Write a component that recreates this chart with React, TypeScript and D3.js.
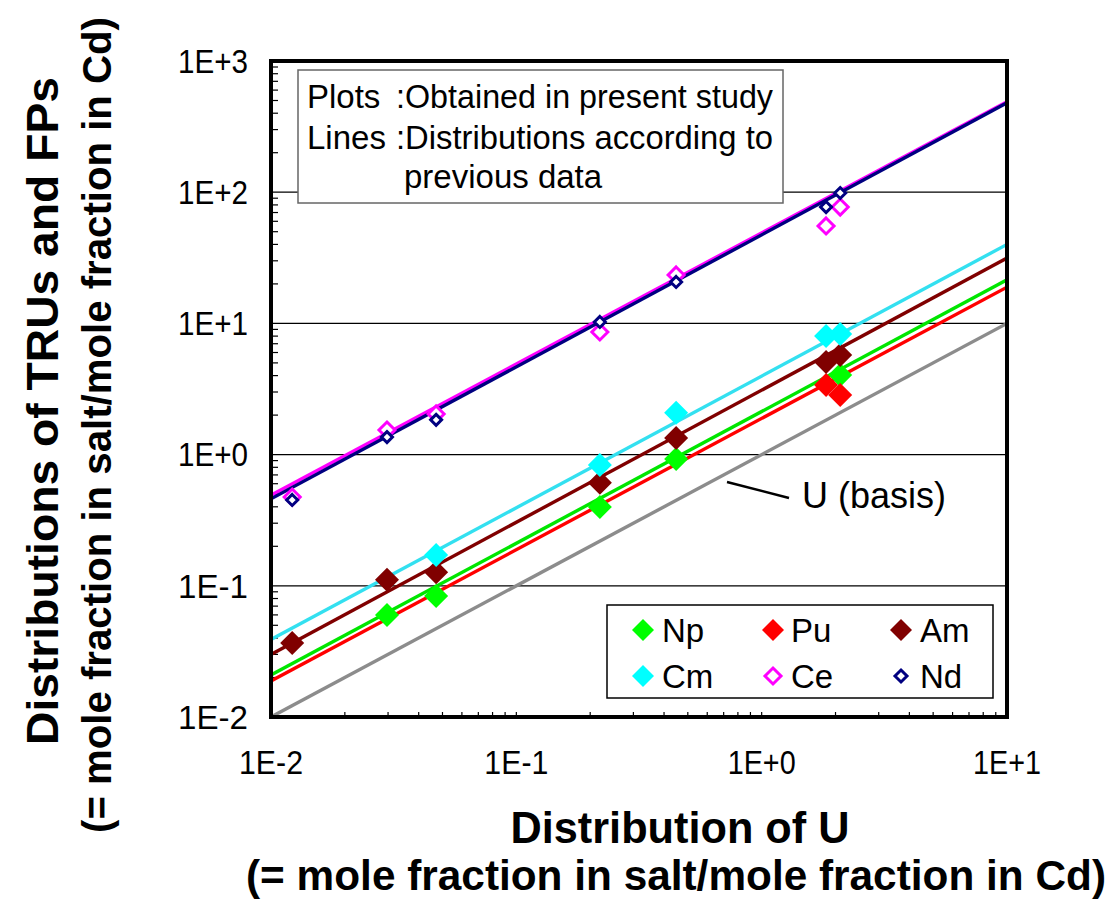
import React from "react";
import * as d3 from "d3";

// ---- Data ----
const xTicks = [0.01, 0.1, 1, 10];
const xTickLabels = ["1E-2", "1E-1", "1E+0", "1E+1"];
const yTicks = [0.01, 0.1, 1, 10, 100, 1000];
const yTickLabels = ["1E-2", "1E-1", "1E+0", "1E+1", "1E+2", "1E+3"];

const npU = [0.0297, 0.0471, 0.219, 0.448, 2.09];
const npV = [0.0598, 0.0836, 0.399, 0.925, 4.04];
const puU = [1.83, 2.09];
const puV = [3.39, 2.85];
const amU = [0.0122, 0.0297, 0.0471, 0.219, 0.448, 1.83, 2.09];
const amV = [0.0366, 0.111, 0.127, 0.609, 1.34, 5.08, 5.74];
const cmU = [0.0471, 0.219, 0.448, 1.83, 2.09];
const cmV = [0.172, 0.834, 2.08, 8.0, 8.3];
const ceU = [0.0122, 0.0297, 0.0471, 0.219, 0.448, 1.83, 2.09];
const ceV = [0.475, 1.54, 2.04, 8.6, 23.4, 55.3, 77.1];
const ndU = [0.0122, 0.0297, 0.0471, 0.219, 0.448, 1.83, 2.09];
const ndV = [0.451, 1.36, 1.84, 10.25, 20.7, 77.1, 98.6];

// previous-data distribution lines (values at x = 0.01 and x = 10)
const lineX = [0.01, 10];
const lineU = [0.01, 10];
const lineNp = [0.0209, 21.5];
const linePu = [0.0188, 18.9];
const lineAm = [0.03, 31.5];
const lineCm = [0.039, 40];
const lineCe = [0.49, 490];
const lineNd = [0.46, 480];

const FONT = "'Liberation Sans', Arial, Helvetica, sans-serif";

const W = 1113, H = 902;
const L = 271, R = 1007, T = 61, B = 717;

export default function App() {
  const x = d3.scaleLog().domain([0.01, 10]).range([L, R]);
  const y = d3.scaleLog().domain([0.01, 1000]).range([B, T]);
  const line = d3.line<[number, number]>().x((d) => x(d[0])).y((d) => y(d[1]));
  const mk = (vals: number[]) => line(lineX.map((v, i) => [v, vals[i]] as [number, number])) || "";

  const diamond = (cx: number, cy: number, r: number) =>
    `M${cx},${cy - r}L${cx + r},${cy}L${cx},${cy + r}L${cx - r},${cy}Z`;

  const minorX: number[] = [];
  for (let d = -2; d < 1; d++) for (let m = 2; m <= 10; m++) minorX.push(m * Math.pow(10, d));
  const minorY: number[] = [];
  for (let d = -2; d < 3; d++) for (let m = 2; m <= 9; m++) minorY.push(m * Math.pow(10, d));

  const lines = [
    { v: lineU, c: "#8c8c8c" },
    { v: linePu, c: "#ff0000" },
    { v: lineNp, c: "#00e600" },
    { v: lineAm, c: "#800000" },
    { v: lineCm, c: "#33e0f0" },
    { v: lineCe, c: "#ff00ff" },
    { v: lineNd, c: "#000080" },
  ];

  const filled = [
    { u: npU, v: npV, c: "#00ff00" },
    { u: puU, v: puV, c: "#ff0000" },
    { u: amU, v: amV, c: "#800000" },
    { u: cmU, v: cmV, c: "#00ffff" },
  ];

  return (
    <svg width={W} height={H} style={{ position: "absolute", left: 0, top: 0, background: "#fff" }}
      fontFamily={FONT}>
      <defs>
        <clipPath id="plot">
          <rect x={L} y={T} width={R - L} height={B - T} />
        </clipPath>
      </defs>
      <rect x={0} y={0} width={W} height={H} fill="#fff" />
      {/* gridlines */}
      {yTicks.slice(1, -1).map((t) => (
        <line key={t} x1={L} x2={R} y1={y(t)} y2={y(t)} stroke="#000" strokeWidth={1.2} />
      ))}
      {/* minor ticks */}
      {minorY.map((t) => (
        <line key={"my" + t} x1={L} x2={L + 7} y1={y(t)} y2={y(t)} stroke="#000" strokeWidth={1.2} />
      ))}
      {minorX.map((t) => (
        <line key={"mx" + t} x1={x(t)} x2={x(t)} y1={B} y2={B - 5} stroke="#000" strokeWidth={1.2} />
      ))}
      {/* lines */}
      <g clipPath="url(#plot)">
        {lines.map((l, i) => (
          <path key={i} d={mk(l.v)} stroke={l.c} strokeWidth={3.4} fill="none" />
        ))}
      </g>
      {/* text box */}
      <rect x={298} y={70} width={485} height={133} fill="#fff" stroke="#666" strokeWidth={1.5} />
      <g fontSize={33} fill="#000">
        <text x={307} y={108}>Plots</text>
        <text x={396} y={108} textLength={377} lengthAdjust="spacingAndGlyphs">:Obtained in present study</text>
        <text x={307} y={149}>Lines</text>
        <text x={396} y={149} textLength={377} lengthAdjust="spacingAndGlyphs">:Distributions according to</text>
        <text x={404} y={188}>previous data</text>
      </g>
      {/* markers */}
      {filled.map((s, si) =>
        s.u.map((u, i) => <path key={si + "-" + i} d={diamond(x(u), y(s.v[i]), 12)} fill={s.c} />)
      )}
      {ceU.map((u, i) => (
        <path key={"ce" + i} d={diamond(x(u), y(ceV[i]), 8)} fill="#fff" stroke="#ff00ff" strokeWidth={3} />
      ))}
      {ndU.map((u, i) => (
        <path key={"nd" + i} d={diamond(x(u), y(ndV[i]), 5.5)} fill="#fff" stroke="#000080" strokeWidth={3} />
      ))}
      {/* frame */}
      <rect x={L} y={T} width={R - L} height={B - T} fill="none" stroke="#000" strokeWidth={4} />
      {/* U basis label */}
      <line x1={727} y1={482} x2={789} y2={498} stroke="#000" strokeWidth={2.5} />
      <text x={802} y={508} fontSize={36}>U (basis)</text>
      {/* legend */}
      <rect x={607} y={605} width={386} height={93} fill="#fff" stroke="#000" strokeWidth={1.5} />
      <g fontSize={33}>
        <path d={diamond(643, 630, 11)} fill="#00ff00" />
        <text x={662} y={642}>Np</text>
        <path d={diamond(773, 630, 11)} fill="#ff0000" />
        <text x={791} y={642}>Pu</text>
        <path d={diamond(901, 630, 11)} fill="#800000" />
        <text x={920} y={642}>Am</text>
        <path d={diamond(643, 676, 11)} fill="#00ffff" />
        <text x={662} y={688}>Cm</text>
        <path d={diamond(773, 676, 8)} fill="#fff" stroke="#ff00ff" strokeWidth={3} />
        <text x={791} y={688}>Ce</text>
        <path d={diamond(901, 676, 6)} fill="#fff" stroke="#000080" strokeWidth={3} />
        <text x={920} y={688}>Nd</text>
      </g>
      {/* tick labels */}
      <g fontSize={33}>
        {yTicks.map((t, i) => (
          <text key={"yt" + t} x={248} y={y(t)} dy="0.36em" textAnchor="end"
            textLength={70} lengthAdjust="spacingAndGlyphs">{yTickLabels[i]}</text>
        ))}
        {xTicks.map((t, i) => (
          <text key={"xt" + t} x={x(t)} y={774} textAnchor="middle"
            textLength={i === 0 || i === 1 ? 64 : 68} lengthAdjust="spacingAndGlyphs">{xTickLabels[i]}</text>
        ))}
      </g>
      {/* axis titles */}
      <g fontWeight="bold">
        <text x={680} y={843} fontSize={44} textAnchor="middle" textLength={339} lengthAdjust="spacingAndGlyphs">Distribution of U</text>
        <text x={676} y={890} fontSize={42} textAnchor="middle" textLength={860} lengthAdjust="spacingAndGlyphs">(= mole fraction in salt/mole fraction in Cd)</text>
        <text transform="translate(58,411) rotate(-90)" fontSize={44} textAnchor="middle" textLength={668}
          lengthAdjust="spacingAndGlyphs">Distributions of TRUs and FPs</text>
        <text transform="translate(111,425) rotate(-90)" fontSize={40} textAnchor="middle" textLength={816}
          lengthAdjust="spacingAndGlyphs">(= mole fraction in salt/mole fraction in Cd)</text>
      </g>
    </svg>
  );
}
